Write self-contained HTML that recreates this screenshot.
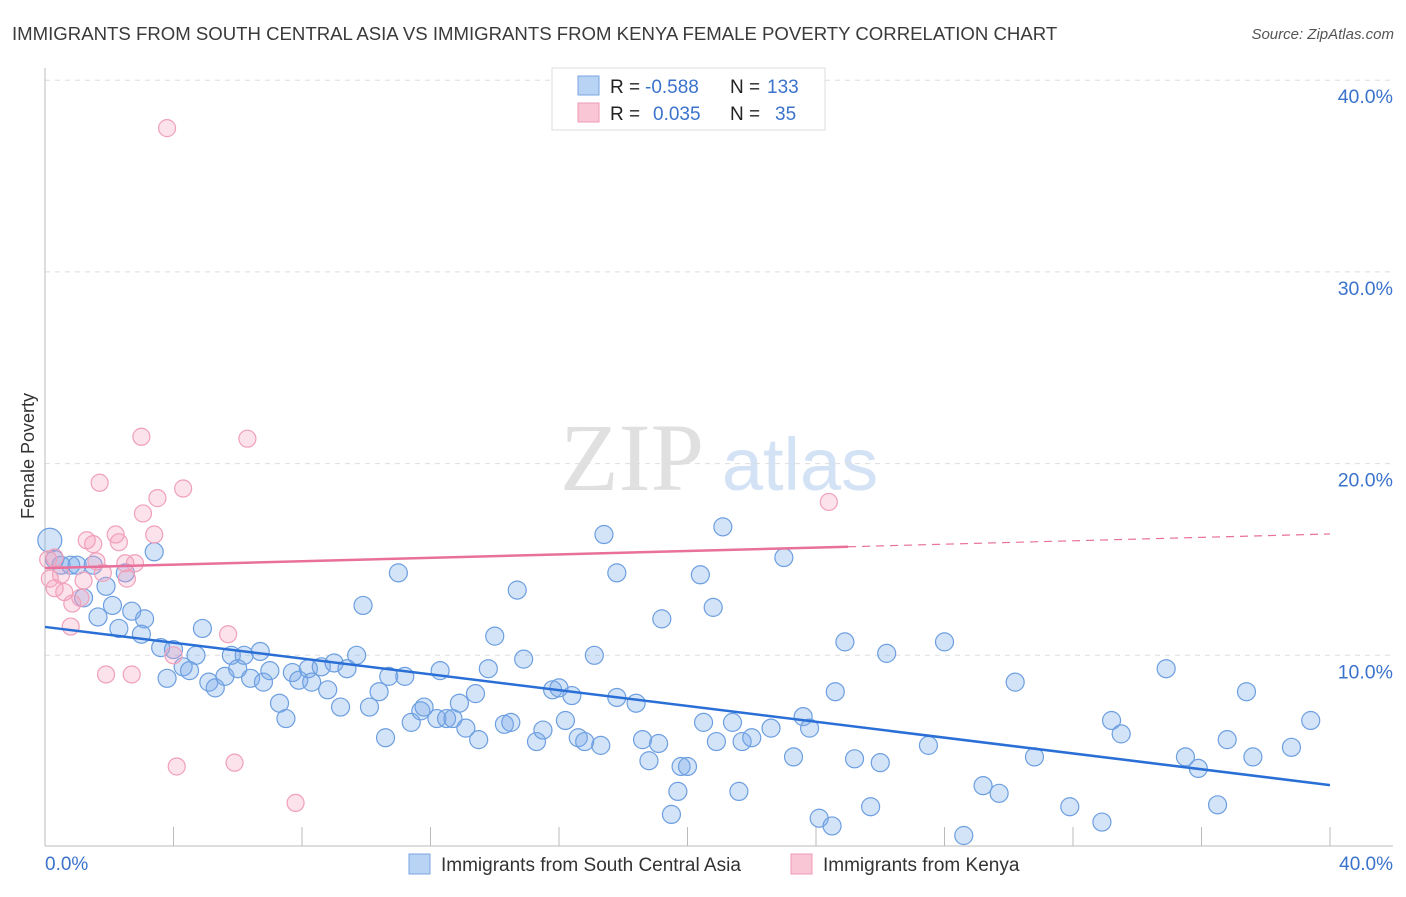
<!DOCTYPE html>
<html><head><meta charset="utf-8"><style>
body{margin:0;background:#fff;font-family:"Liberation Sans",sans-serif}
</style></head><body>
<svg width="1406" height="892" xmlns="http://www.w3.org/2000/svg" id="svg">
<text x="12" y="40" font-size="18.6" fill="#3a3a3a">IMMIGRANTS FROM SOUTH CENTRAL ASIA VS IMMIGRANTS FROM KENYA FEMALE POVERTY CORRELATION CHART</text>
<text x="1394" y="39" font-size="15" fill="#555" text-anchor="end" font-style="italic">Source: ZipAtlas.com</text>
<text x="34" y="456" font-size="18" fill="#333" transform="rotate(-90 34 456)" text-anchor="middle">Female Poverty</text>
<g>
<text x="632" y="490" font-size="96" font-family="Liberation Serif,serif" fill="#e0e0e0" text-anchor="middle">ZIP</text>
<text x="800" y="490" font-size="74" fill="#d3e2f4" text-anchor="middle">atlas</text>
</g>
<g id="grid"></g><g id="axes"></g><g id="marks"></g><g id="lines"></g>
<g>
<rect x="552" y="68" width="273" height="62" fill="#fff" stroke="#ddd"/>
<rect x="578" y="76" width="21" height="19" fill="#b9d3f5" stroke="#7aa6e0"/>
<rect x="578" y="103" width="21" height="19" fill="#f9c6d6" stroke="#ee9ab4"/>
<text x="610" y="93" font-size="19" fill="#222">R =</text>
<text x="645" y="93" font-size="19" fill="#3b73cc">-0.588</text>
<text x="730" y="93" font-size="19" fill="#222">N =</text>
<text x="767" y="93" font-size="19" fill="#3b73cc">133</text>
<text x="610" y="120" font-size="19" fill="#222">R =</text>
<text x="653" y="120" font-size="19" fill="#3b73cc">0.035</text>
<text x="730" y="120" font-size="19" fill="#222">N =</text>
<text x="775" y="120" font-size="19" fill="#3b73cc">35</text>
</g>
<g>
<rect x="409" y="854" width="21" height="20" fill="#b9d3f5" stroke="#7aa6e0"/>
<text x="441" y="871" font-size="19" fill="#333">Immigrants from South Central Asia</text>
<rect x="791" y="854" width="21" height="20" fill="#f9c6d6" stroke="#ee9ab4"/>
<text x="823" y="871" font-size="19" fill="#333">Immigrants from Kenya</text>
</g>
</svg>
<script>
const yTicks=[10,20,30,40];
const yTickLabels=["10.0%","20.0%","30.0%","40.0%"];
const xTicks=[4,8,12,16,20,24,28,32,36,40];
const blueX=[0.15,0.3,0.5,0.8,1.0,1.5,1.9,1.2,2.1,1.65,2.5,3.4,2.7,3.1,2.3,3.0,3.6,4.0,4.9,4.7,4.3,4.5,3.8,5.1,5.3,5.6,5.8,6.2,6.7,6.0,6.4,6.8,7.0,7.3,7.5,7.7,7.9,8.2,8.3,8.6,9.0,9.4,9.7,8.8,9.2,9.9,10.1,10.4,10.6,11.0,10.7,11.2,11.4,11.7,11.8,12.2,12.5,12.7,12.3,12.9,13.1,13.4,13.5,13.8,14.0,14.3,14.5,14.7,14.9,15.3,15.5,15.8,16.0,16.2,16.4,16.6,16.8,17.1,17.3,17.4,17.8,17.8,18.4,18.6,18.8,19.1,19.2,19.5,19.7,19.8,20.0,20.4,20.5,20.8,20.9,21.1,21.4,21.6,21.7,22.0,22.6,23.0,23.3,23.6,23.8,24.1,24.5,24.6,24.9,25.2,25.7,26.0,26.2,27.5,28.0,28.6,29.2,29.7,30.2,30.8,31.9,32.9,33.2,33.5,34.9,35.5,35.9,36.5,36.8,37.4,37.6,38.8,39.4];
const blueY=[16.0,15.0,14.7,14.7,14.7,14.7,13.6,13.0,12.6,12.0,14.3,15.4,12.3,11.9,11.4,11.1,10.4,10.3,11.4,10.0,9.4,9.2,8.8,8.6,8.3,8.9,10.0,10.0,10.2,9.3,8.8,8.6,9.2,7.5,6.7,9.1,8.7,9.3,8.6,9.4,9.6,9.3,10.0,8.2,7.3,12.6,7.3,8.1,5.7,14.3,8.9,8.9,6.5,7.1,7.3,6.7,6.7,6.7,9.2,7.5,6.2,8.0,5.6,9.3,11.0,6.4,6.5,13.4,9.8,5.5,6.1,8.2,8.3,6.6,7.9,5.7,5.5,10.0,5.3,16.3,14.3,7.8,7.5,5.6,4.5,5.4,11.9,1.7,2.9,4.2,4.2,14.2,6.5,12.5,5.5,16.7,6.5,2.9,5.5,5.7,6.2,15.1,4.7,6.8,6.2,1.5,1.1,8.1,10.7,4.6,2.1,4.4,10.1,5.3,10.7,0.6,3.2,2.8,8.6,4.7,2.1,1.3,6.6,5.9,9.3,4.7,4.1,2.2,5.6,8.1,4.7,5.2,6.6];
const pinkX=[3.8,3.0,6.3,1.7,4.3,3.5,3.05,24.4,1.3,2.2,3.4,2.3,1.5,0.3,1.6,2.5,2.8,0.5,1.8,2.55,1.2,0.15,0.3,0.6,1.1,0.85,0.8,5.7,1.9,2.7,4.0,4.1,5.9,7.8,0.1];
const pinkY=[37.5,21.4,21.3,19.0,18.7,18.2,17.4,18.0,16.0,16.3,16.3,15.9,15.8,15.1,14.9,14.8,14.8,14.2,14.3,14.0,13.9,14.0,13.5,13.3,13.0,12.7,11.5,11.1,9.0,9.0,10.0,4.2,4.4,2.3,15.0];
const blueTrend=[11.48,3.23];
const pinkTrend=[14.55,16.33];
const pinkSolidEnd=25;
const NS="http://www.w3.org/2000/svg";
const X=v=>45+v*32.125, Y=v=>847-v*19.17;
function mk(p,t,a){const e=document.createElementNS(NS,t);for(const k in a)e.setAttribute(k,a[k]);document.getElementById(p).appendChild(e);return e;}
yTicks.forEach((t,i)=>{
 const l=mk('grid','line',{x1:45,x2:1393,y1:Y(t),y2:Y(t),stroke:'#ddd','stroke-dasharray':'5,5'});
 
 
 const tx=mk('grid','text',{x:1393,y:Y(t)+23,'font-size':19.5,fill:'#3b73cc','text-anchor':'end'});
 tx.textContent=yTickLabels[i];
 
 
});
let a=mk('axes','line',{x1:45,x2:45,y1:68,y2:846,stroke:'#bbb'});


a=mk('axes','line',{x1:45,x2:1393,y1:846,y2:846,stroke:'#bbb'});


xTicks.forEach(t=>{const l=mk('axes','line',{x1:X(t),x2:X(t),y1:827,y2:846,stroke:'#bbb'});
 
 });
a=mk('axes','text',{x:45,y:870,'font-size':19,fill:'#3b73cc'});a.textContent='0.0%';


a=mk('axes','text',{x:1393,y:870,'font-size':19,fill:'#3b73cc','text-anchor':'end'});a.textContent='40.0%';


blueX.forEach((v,i)=>{const c=mk('marks','circle',{cx:X(v),cy:Y(blueY[i]),r:i==0?12:9,fill:'rgba(120,170,235,0.33)',stroke:'#6d9fe0','stroke-width':1.2});
 
 });
pinkX.forEach((v,i)=>{const c=mk('marks','circle',{cx:X(v),cy:Y(pinkY[i]),r:8.5,fill:'rgba(245,160,190,0.3)',stroke:'#f0a0ba','stroke-width':1.2});
 
 });
let t=mk('lines','line',{x1:X(0),y1:Y(blueTrend[0]),x2:X(40),y2:Y(blueTrend[1]),stroke:'#2a6fd6','stroke-width':2.5});


const pm=pinkTrend[0]+(pinkTrend[1]-pinkTrend[0])*pinkSolidEnd/40;
t=mk('lines','line',{x1:X(0),y1:Y(pinkTrend[0]),x2:X(pinkSolidEnd),y2:Y(pm),stroke:'#e8709a','stroke-width':2.5});


t=mk('lines','line',{x1:X(pinkSolidEnd),y1:Y(pm),x2:X(40),y2:Y(pinkTrend[1]),stroke:'#e8709a','stroke-width':1.2,'stroke-dasharray':'8,6'});


</script>
</body></html>
